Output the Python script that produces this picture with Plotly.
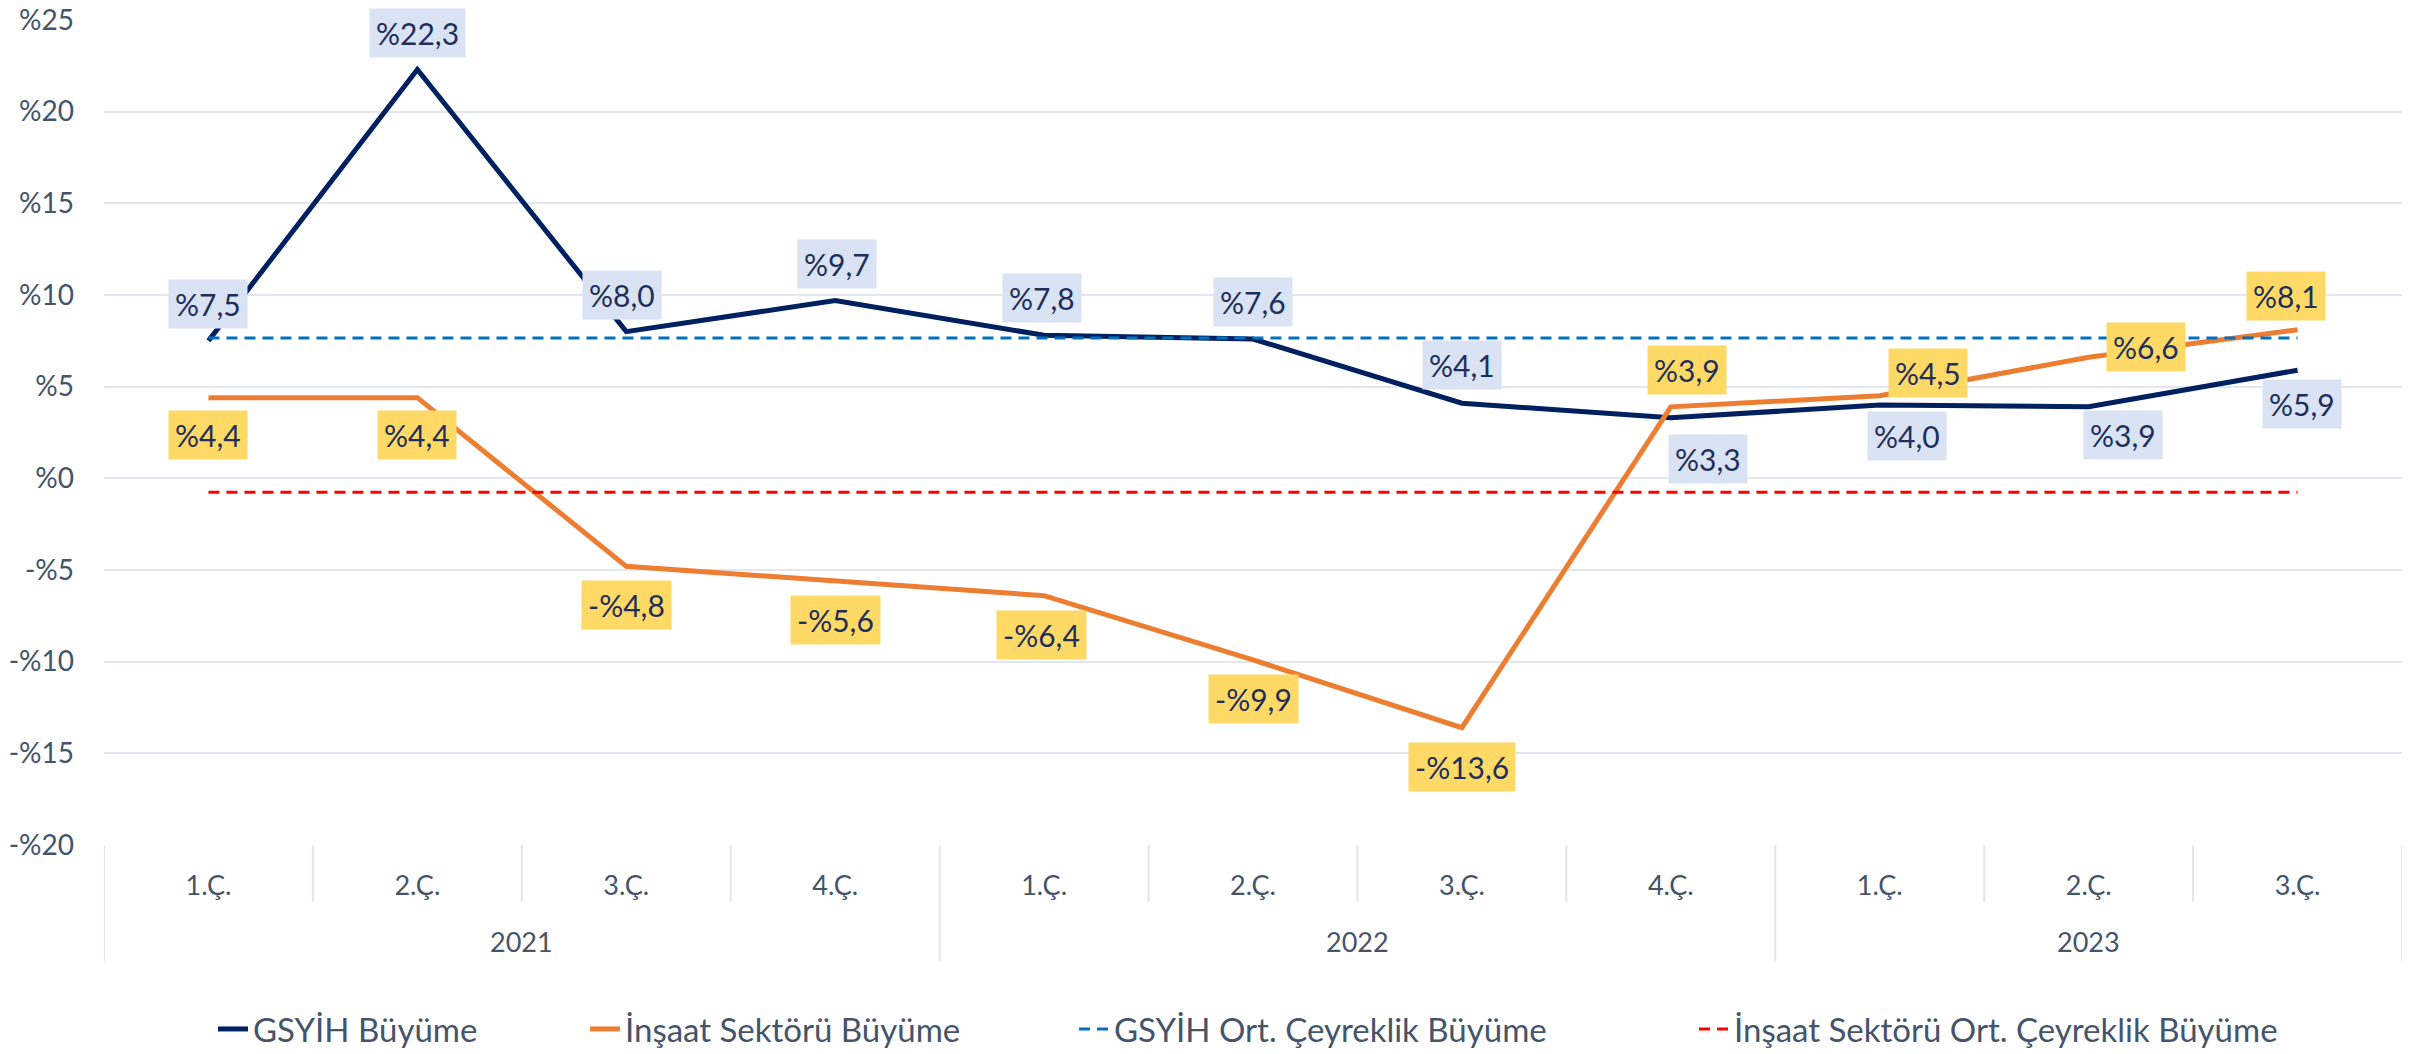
import plotly.graph_objects as go

# data
years = ["2021"] * 4 + ["2022"] * 4 + ["2023"] * 3
quarters = ["1.Ç.", "2.Ç.", "3.Ç.", "4.Ç.", "1.Ç.", "2.Ç.", "3.Ç.", "4.Ç.", "1.Ç.", "2.Ç.", "3.Ç."]
gdp_growth = [7.5, 22.3, 8.0, 9.7, 7.8, 7.6, 4.1, 3.3, 4.0, 3.9, 5.9]
construction_growth = [4.4, 4.4, -4.8, -5.6, -6.4, -9.9, -13.6, 3.9, 4.5, 6.6, 8.1]
gdp_avg = [7.65] * 11
construction_avg = [-0.76] * 11

y_ticks = [-20, -15, -10, -5, 0, 5, 10, 15, 20, 25]
y_ticktext = ["-%20", "-%15", "-%10", "-%5", "%0", "%5", "%10", "%15", "%20", "%25"]

# label placement (pixel offsets from the point)
gdp_label_shift = [(0, 37), (0, 37), (-4, 37), (2, 37), (-2, 37), (0, 37), (0, 38),
                   (37, -41), (27, -31), (34, -28), (4, -34)]
con_label_shift = [(0, -37), (0, -37), (0, -39), (0, -39), (-3, -39), (0, -39), (0, -39),
                   (16, 37), (48, 23), (57, 10), (-12, 34)]

FONT = "Lato"
AXIS_COLOR = "#44546A"
LABEL_COLOR = "#1F2F5C"
GRID = "#E3E6EC"

W, H = 2430, 1054
ML, MR, MT, MB = 104, 28, 20, 209
PW, PH = W - ML - MR, H - MT - MB


def fmt(v):
    s = f"%{abs(v):.1f}".replace(".", ",")
    return "-" + s if v < 0 else s


xi = list(range(len(quarters)))

series = [
    ("GSYİH Büyüme", gdp_growth, dict(color="#002060", width=5)),
    ("İnşaat Sektörü Büyüme", construction_growth, dict(color="#ED7D31", width=5)),
    ("GSYİH Ort. Çeyreklik Büyüme", gdp_avg, dict(color="#0070C0", width=3, dash="11px,7px")),
    ("İnşaat Sektörü Ort. Çeyreklik Büyüme", construction_avg,
     dict(color="#FF0000", width=3, dash="11px,7px")),
]
legend_px = [213, 585, 1074, 1694]  # left edge of each legend entry, in pixels

fig = go.Figure()
layout_legends = {}
for k, (name, vals, line) in enumerate(series):
    lg = "legend" if k == 0 else f"legend{k + 1}"
    fig.add_trace(go.Scatter(x=xi, y=vals, name=name, mode="lines", line=line, legend=lg))
    layout_legends[lg] = dict(orientation="h", x=(legend_px[k] - ML) / PW, xanchor="left",
                              y=-156 / PH, yanchor="top", bgcolor="rgba(0,0,0,0)",
                              font=dict(family=FONT, size=33, color=AXIS_COLOR))

# data labels with coloured boxes
for i, v in enumerate(gdp_growth):
    dx, dy = gdp_label_shift[i]
    fig.add_annotation(x=i, y=v, text=fmt(v), showarrow=False, xshift=dx, yshift=dy,
                       bgcolor="#DAE3F3", borderpad=6,
                       font=dict(family=FONT, size=30, color=LABEL_COLOR))
for i, v in enumerate(construction_growth):
    dx, dy = con_label_shift[i]
    fig.add_annotation(x=i, y=v, text=fmt(v), showarrow=False, xshift=dx, yshift=dy,
                       bgcolor="#FFD966", borderpad=6,
                       font=dict(family=FONT, size=30, color=LABEL_COLOR))

# year labels and category separators below the plot
inner_depth = -57 / PH
outer_depth = -116 / PH
groups = []
for i, y in enumerate(years):
    if not groups or groups[-1][0] != y:
        groups.append([y, i, i])
    else:
        groups[-1][2] = i
for y, a, b in groups:
    fig.add_annotation(x=(a + b) / 2, y=0, xref="x", yref="paper", text=y, showarrow=False,
                       yanchor="middle", yshift=-96,
                       font=dict(family=FONT, size=27, color=AXIS_COLOR))
    fig.add_shape(type="line", xref="x", yref="paper", x0=a - 0.5, x1=a - 0.5, y0=0, y1=outer_depth,
                  line=dict(color=GRID, width=2))
    for j in range(a + 1, b + 1):
        fig.add_shape(type="line", xref="x", yref="paper", x0=j - 0.5, x1=j - 0.5, y0=0,
                      y1=inner_depth, line=dict(color=GRID, width=2))
fig.add_shape(type="line", xref="x", yref="paper", x0=len(xi) - 0.5, x1=len(xi) - 0.5, y0=0,
              y1=outer_depth, line=dict(color=GRID, width=2))

fig.update_layout(
    width=W, height=H,
    paper_bgcolor="white", plot_bgcolor="white",
    margin=dict(l=ML, r=MR, t=MT, b=MB, autoexpand=False),
    font=dict(family=FONT, size=26, color=AXIS_COLOR),
    showlegend=True,
    **layout_legends,
)
fig.update_yaxes(range=[-20, 25], tickvals=y_ticks, ticktext=y_ticktext, automargin=False,
                 showgrid=True, gridcolor=GRID, gridwidth=2, zeroline=False,
                 ticklabelstandoff=29, tickfont=dict(size=28, color=AXIS_COLOR))
fig.update_xaxes(range=[-0.5, len(xi) - 0.5], tickvals=xi, ticktext=quarters, showgrid=False,
                 automargin=False, zeroline=False, showline=False, ticks="", ticklabelstandoff=22,
                 tickfont=dict(size=27, color=AXIS_COLOR))

# drop the default page margin so the figure fills the window exactly
fig.write_html("out.html", config={"displayModeBar": False},
               post_script="document.body.style.margin = '0px';")
